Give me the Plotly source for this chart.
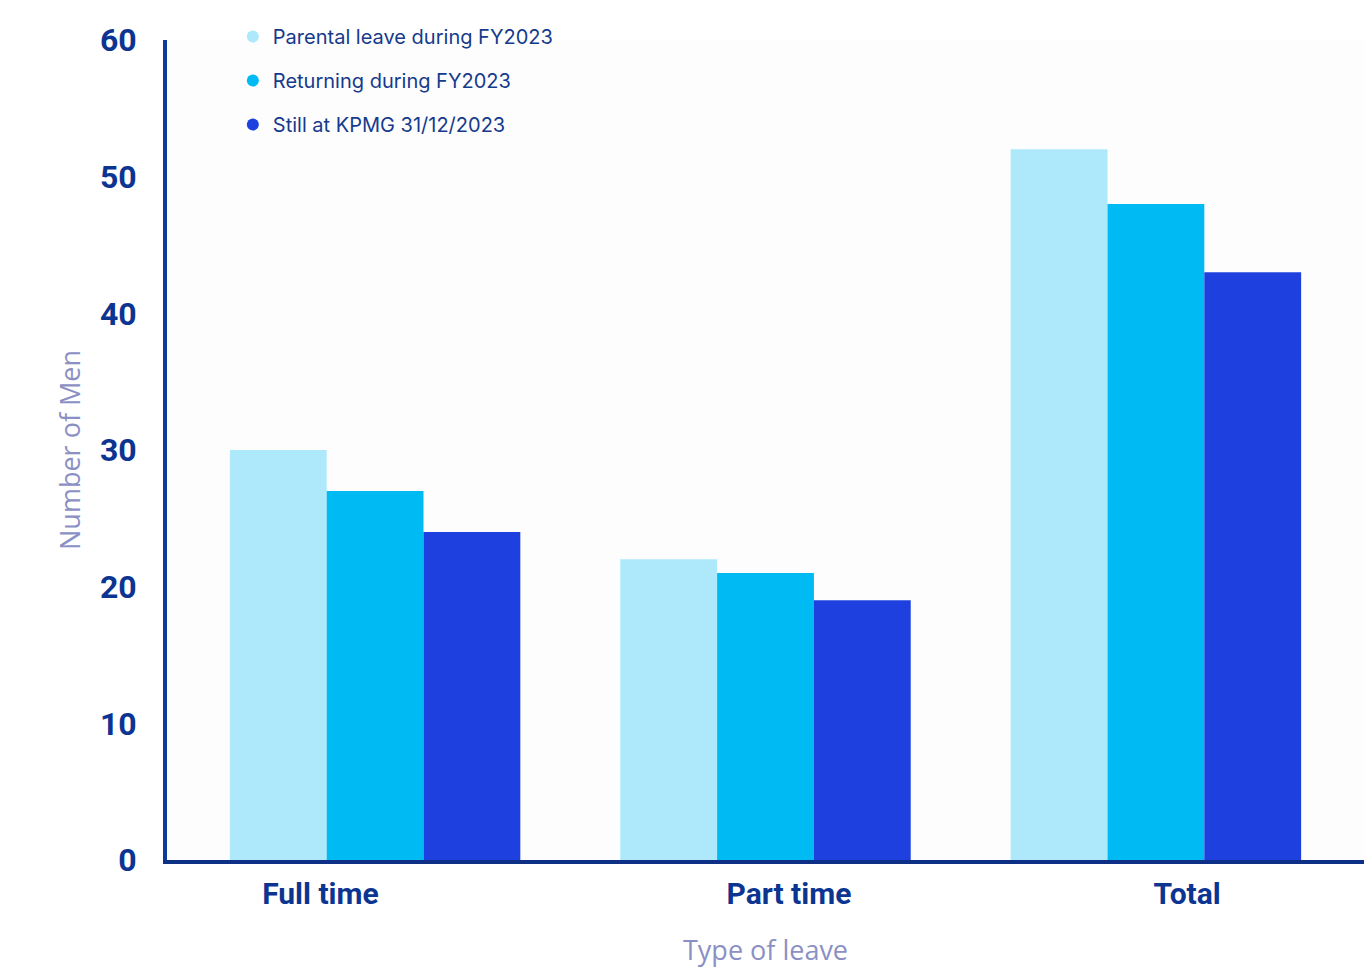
import plotly.graph_objects as go

# Parental leave taken by men, by type of leave
categories = ["Full time", "Part time", "Total"]
series_names = ["Parental leave during FY2023", "Returning during FY2023", "Still at KPMG 31/12/2023"]
parental_leave = [30, 22, 52]
returning = [27, 21, 48]
still_at_kpmg = [24, 19, 43]
y_ticks = [0, 10, 20, 30, 40, 50, 60]

colors = ["#ade8fb", "#00bbf3", "#1e40de"]
navy = "#0c3591"
label_offsets = [-0.14, 0.06, 0.08]  # nudge category labels under each group

x_pos = list(range(len(categories)))
values = [parental_leave, returning, still_at_kpmg]

fig = go.Figure()
for name, vals, col in zip(series_names, values, colors):
    fig.add_trace(go.Bar(
        x=x_pos, y=vals, name=name, marker=dict(color=col, line=dict(width=0)),
        showlegend=False, legendgroup=name,
    ))
# circular legend markers
for name, col in zip(series_names, colors):
    fig.add_trace(go.Scatter(
        x=[None], y=[None], mode="markers", name=name, legendgroup=name,
        marker=dict(symbol="circle", size=16, color=col),
    ))

tick_font = "Roboto"

fig.update_layout(
    width=1364, height=970,
    margin=dict(l=167, r=0, t=40, b=110),
    paper_bgcolor="#ffffff",
    plot_bgcolor="#fdfdfe",
    barmode="group",
    bargap=0.256,
    bargroupgap=0,
    showlegend=True,
    legend=dict(
        x=0.055, y=1.028, xanchor="left", yanchor="top",
        bgcolor="rgba(0,0,0,0)",
        font=dict(family="Inter", size=20, color="#163a8c"),
        tracegroupgap=15, itemsizing="constant",
    ),
    xaxis=dict(
        range=[-0.533, 2.533],
        tickvals=[p + o for p, o in zip(x_pos, label_offsets)],
        ticktext=categories,
        tickfont=dict(family=tick_font, size=30, color=navy, weight="bold"),
        showgrid=False, zeroline=False,
        showline=True, linecolor="#0d2f86", linewidth=4,
        ticks="", ticklabelstandoff=4,
        title=dict(text="Type of leave", font=dict(family="Open Sans", size=27, color="#8b90c4"), standoff=32),
    ),
    yaxis=dict(
        range=[0, 60],
        tickvals=y_ticks,
        tickfont=dict(family=tick_font, size=32, color=navy, weight="bold"),
        showgrid=False, zeroline=False,
        showline=True, linecolor="#0e3a9c", linewidth=4,
        ticks="", ticklabelstandoff=20,
        title=dict(text="Number of Men", font=dict(family="Open Sans", size=27, color="#8b90c4"), standoff=12),
    ),
)

fig.write_html("out.html")
